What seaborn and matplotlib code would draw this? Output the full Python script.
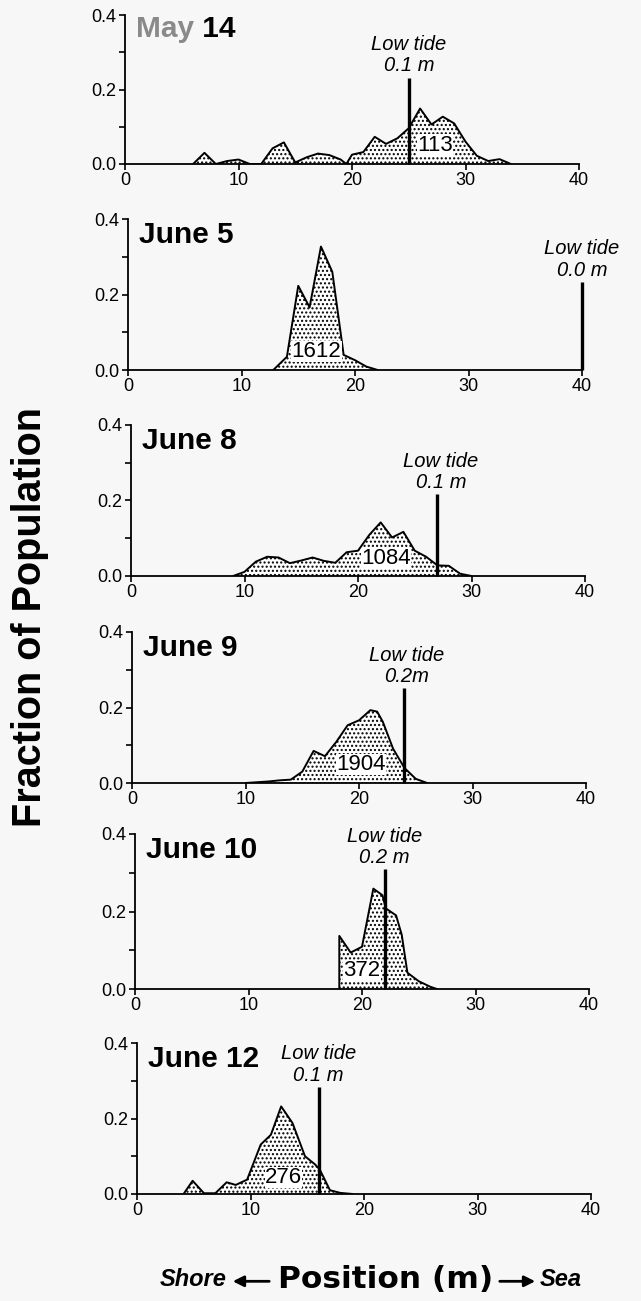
import matplotlib
matplotlib.use('Agg')
import numpy as np
import pandas as pd
import matplotlib.pyplot as plt
import seaborn as sns
from matplotlib.patches import FancyArrowPatch

# readings from the figure: position along transect (m) and fraction of population
dates = ['May 14', 'June 5', 'June 8', 'June 9', 'June 10', 'June 12']

pos_may14 = [6, 7, 8, 9, 10, 11, 12, 13, 14, 15, 16, 17, 18, 19, 19.5, 20, 21, 22, 23, 24, 25, 26, 27, 28, 29, 30, 31, 32, 33, 34]
frac_may14 = [0.0, 0.03, 0.0, 0.008, 0.012, 0.0, 0.0, 0.042, 0.058, 0.004, 0.018, 0.028, 0.024, 0.012, 0.0, 0.025, 0.032, 0.073, 0.054, 0.069, 0.096, 0.149, 0.106, 0.127, 0.109, 0.06, 0.022, 0.008, 0.013, 0.0]

pos_june5 = [12.8, 14, 15, 16, 17, 18, 19, 20, 21, 22]
frac_june5 = [0.0, 0.035, 0.223, 0.166, 0.327, 0.26, 0.04, 0.026, 0.009, 0.0]

pos_june8 = [9, 10, 11, 12, 13, 14, 15, 16, 17, 18, 19, 20, 21, 22, 23, 24, 25, 26, 27, 28, 29, 30]
frac_june8 = [0.0, 0.011, 0.038, 0.051, 0.049, 0.034, 0.041, 0.049, 0.04, 0.035, 0.063, 0.067, 0.109, 0.142, 0.102, 0.117, 0.067, 0.051, 0.028, 0.027, 0.006, 0.0]

pos_june9 = [10, 11, 12, 13, 14, 15, 16, 17, 18, 19, 20, 21, 21.6, 22.1, 23, 24, 25, 26]
frac_june9 = [0.0, 0.002, 0.004, 0.007, 0.009, 0.03, 0.085, 0.071, 0.109, 0.153, 0.166, 0.193, 0.189, 0.162, 0.091, 0.04, 0.011, 0.0]

pos_june10 = [18, 18, 19, 20, 21, 21.8, 22.1, 23, 23.5, 24, 25, 26, 26.6]
frac_june10 = [0.0, 0.137, 0.094, 0.109, 0.259, 0.242, 0.208, 0.19, 0.14, 0.042, 0.02, 0.006, 0.0]

pos_june12 = [4.1, 4.9, 5.9, 6.9, 7.9, 8.7, 9.7, 10.9, 11.8, 12.7, 13.7, 14.8, 15.7, 16.1, 17.0, 17.9, 19.0]
frac_june12 = [0.0, 0.035, 0.002, 0.002, 0.031, 0.024, 0.038, 0.131, 0.157, 0.232, 0.188, 0.1, 0.078, 0.065, 0.01, 0.003, 0.0]

counts = [113, 1612, 1084, 1904, 372, 276]
count_x = [27.3, 16.6, 22.5, 20.2, 20.0, 12.9]
count_y = [0.051, 0.049, 0.047, 0.049, 0.048, 0.044]

tide_pos = [25, 40, 27, 24, 22, 16]
tide_top = [0.232, 0.234, 0.216, 0.251, 0.31, 0.284]
tide_level = ['0.1 m', '0.0 m', '0.1 m', '0.2m', '0.2 m', '0.1 m']
tide_label_x = [25.0, 40.0, 27.3, 24.2, 22.0, 16.0]

positions = [pos_may14, pos_june5, pos_june8, pos_june9, pos_june10, pos_june12]
fractions = [frac_may14, frac_june5, frac_june8, frac_june9, frac_june10, frac_june12]

sns.set_theme(style='ticks')
plt.rcParams['font.family'] = ['Liberation Sans', 'DejaVu Sans']
plt.rcParams['hatch.linewidth'] = 1.0
plt.rcParams['axes.linewidth'] = 1.3
for k in ['text.color', 'axes.labelcolor', 'xtick.color', 'ytick.color', 'axes.edgecolor']:
    plt.rcParams[k] = 'black'

W, H = 641, 1301
bg = '#f7f7f7'
fig = plt.figure(figsize=(W / 100, H / 100), dpi=100, facecolor=bg)

# panel frames in pixels (top, bottom, left) -- the scan drifts slightly
tops = [15, 219, 425, 632, 834, 1043]
bottoms = [164, 370, 576, 783, 989, 1194]
lefts = [125, 128, 131, 132, 135, 137]
pw = 454

for i in range(6):
    rect = [lefts[i] / W, 1 - bottoms[i] / H, pw / W, (bottoms[i] - tops[i]) / H]
    ax = fig.add_axes(rect)
    ax.set_facecolor('none')
    df = pd.DataFrame({'pos': positions[i], 'frac': fractions[i]})

    ax.fill_between(df['pos'], df['frac'], 0, facecolor='white', edgecolor='black',
                    hatch='....', linewidth=0)
    sns.lineplot(data=df, x='pos', y='frac', ax=ax, color='black', lw=1.4,
                 estimator=None, sort=False)

    ax.vlines(tide_pos[i], 0, tide_top[i], color='black', lw=2.4, clip_on=False)
    ax.annotate('Low tide\n' + tide_level[i], xy=(tide_label_x[i], tide_top[i]),
                xytext=(0, 1.5), textcoords='offset points', ha='center', va='bottom',
                fontsize=14.5, style='italic', linespacing=1.15, annotation_clip=False)

    ax.text(count_x[i], count_y[i], str(counts[i]), ha='center', va='center', fontsize=16,
            bbox=dict(facecolor='white', edgecolor='none', pad=0.1))

    if i == 0:
        t = ax.text(0.024, 1.0, 'May', transform=ax.transAxes, ha='left', va='top',
                    fontsize=21.5, fontweight='bold', color='#8a8a8a')
        ax.annotate(' 14', xy=(1, 0), xycoords=t, ha='left', va='bottom',
                    fontsize=21.5, fontweight='bold', color='black')
    else:
        ax.text(0.024, 0.985, dates[i], transform=ax.transAxes, ha='left', va='top',
                fontsize=21.5, fontweight='bold', color='black')

    ax.set_xlim(0, 40)
    ax.set_ylim(0, 0.4)
    ax.set_xticks([0, 10, 20, 30, 40])
    ax.set_yticks([0.0, 0.2, 0.4])
    ax.set_yticks([0.1, 0.3], minor=True)
    ax.set_yticklabels(['0.0', '0.2', '0.4'])
    ax.tick_params(axis='both', which='both', labelsize=13, length=4, width=1.2,
                   direction='out', color='black', pad=2)
    ax.set_xlabel('')
    ax.set_ylabel('')
    sns.despine(ax=ax)

fig.text(30 / W, 1 - 617 / H, 'Fraction of Population', rotation=90, fontsize=28.5,
         fontweight='bold', ha='center', va='center')

yb = 1 - 1280 / H
fig.text(227 / W, yb, 'Shore', ha='right', va='center', fontsize=17,
         fontweight='bold', style='italic')
fig.text(386 / W, yb, 'Position (m)', ha='center', va='center', fontsize=22.5,
         fontweight='bold', family=['DejaVu Sans'])
fig.text(540 / W, yb, 'Sea', ha='left', va='center', fontsize=17,
         fontweight='bold', style='italic')
for x0, x1 in [(272, 230), (497, 538)]:
    fig.add_artist(FancyArrowPatch((x0 / W, yb - 0.001), (x1 / W, yb - 0.001),
                                   transform=fig.transFigure, arrowstyle='-|>',
                                   mutation_scale=16, lw=2, color='black'))

fig.savefig('out.png', dpi=100, facecolor=bg)
